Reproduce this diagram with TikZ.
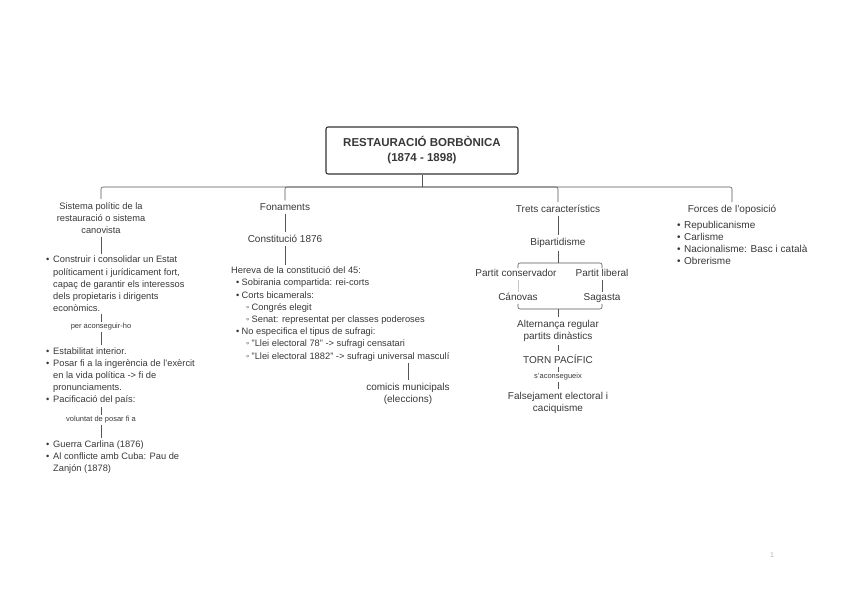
\documentclass[tikz,border=0pt]{standalone}
\usepackage{fontspec}
\setmainfont{Liberation Sans}
\definecolor{txt}{HTML}{383838}
\definecolor{ln}{HTML}{555555}
\definecolor{lnlight}{HTML}{C8C8C8}
\tikzset{
  lbl/.style={inner sep=3pt, text=txt, align=center, font=\fontsize{10}{12}\selectfont},
  brk/.style={inner sep=1pt, text=txt, text height=7.3pt, text depth=2.1pt, font=\fontsize{10}{12}\selectfont},
  body/.style={inner sep=2pt, text=txt, align=left, font=\fontsize{9.3}{12.2}\selectfont},
  bodyb/.style={inner sep=2pt, text=txt, align=left, font=\fontsize{10}{12}\selectfont},
  small/.style={inner sep=1pt, text=txt, font=\fontsize{7.5}{9}\selectfont},
  con/.style={draw=ln, line width=0.6pt},
  titlebox/.style={draw=black!80, line width=1.1pt, rounded corners=2pt, minimum width=192pt,
    minimum height=47pt, align=center, font=\bfseries\fontsize{11.5}{15}\selectfont, text=txt}
}
\newcommand{\bul}{\makebox[7pt][l]{\textbullet}}
\newcommand{\ind}{\hspace*{7pt}}
\newcommand{\bulb}{\hspace*{5pt}\makebox[5.5pt][l]{\textbullet}}
\newcommand{\subb}{\hspace*{15pt}\makebox[5.5pt][l]{◦}}
\begin{document}
\begin{tikzpicture}[x=1pt,y=-1pt]
\useasboundingbox (0,0) rectangle (848,600);

% title
\node[titlebox] (title) at (422,150.5) {RESTAURACIÓ BORBÒNICA\\(1874 - 1898)};
\coordinate (hub) at (422,187);

% column 1
\node[body, align=center, inner sep=3pt] (sis) at (101,218) {Sistema polític de la\\restauració o sistema\\canovista};
\node[body, anchor=west] (l1) at (44,284) {\bul Construir i consolidar un Estat\\
\ind políticament i jurídicament fort,\\
\ind capaç de garantir els interessos\\
\ind dels propietaris i dirigents\\
\ind econòmics.};
\node[small] (aco) at (101,327) {per aconseguir-ho};
\node[body, anchor=west] (l2) at (44,376) {\bul Estabilitat interior.\\
\bul Posar fi a la ingerència de l'exèrcit\\
\ind en la vida política -> fi de\\
\ind pronunciaments.\\
\bul Pacificació del país:};
\node[small] (vol) at (101,420) {voluntat de posar fi a};
\node[body, anchor=west] (l3) at (44,457) {\bul Guerra Carlina (1876)\\
\bul Al conflicte amb Cuba: Pau de\\
\ind Zanjón (1878)};

% column 2
\node[lbl] (fon) at (285,207) {Fonaments};
\node[lbl] (c76) at (285,239) {Constitució 1876};
\node[body, anchor=west] (l4) at (229,314) {Hereva de la constitució del 45:\\
\bulb Sobirania compartida: rei-corts\\
\bulb Corts bicamerals:\\
\subb Congrés elegit\\
\subb Senat: representat per classes poderoses\\
\bulb No especifica el tipus de sufragi:\\
\subb "Llei electoral 78" -> sufragi censatari\\
\subb "Llei electoral 1882" -> sufragi universal masculí};
\node[lbl] (com) at (408,394) {comicis municipals\\(eleccions)};

% column 3
\node[lbl] (trets) at (558,209) {Trets característics};
\node[lbl] (bip) at (558,243) {Bipartidisme};
\coordinate (bt) at (558,263);
\node[brk] (pc) at (516,274) {Partit conservador};
\node[brk] (pl) at (602,274) {Partit liberal};
\node[brk] (can) at (518,298) {Cánovas};
\node[brk] (sag) at (602,298) {Sagasta};
\coordinate (bb) at (558,309);
\node[lbl] (alt) at (558,331) {Alternança regular\\partits dinàstics};
\node[lbl] (torn) at (558,359) {TORN PACÍFIC};
\node[small] (sac) at (558,377) {s'aconsegueix};
\node[lbl] (fals) at (558,402.5) {Falsejament electoral i\\caciquisme};

% column 4
\node[lbl] (forc) at (732,210) {Forces de l'oposició};
\node[bodyb, anchor=west] (l5) at (675,243) {\bul Republicanisme\\
\bul Carlisme\\
\bul Nacionalisme: Basc i català\\
\bul Obrerisme};

% page number
\node[text=black!30, font=\fontsize{7}{8}\selectfont] (pg) at (772,555) {1};

% connectors
\draw[con] (title.south) -- (hub);
\draw[con, rounded corners=2pt] (hub) -| (sis.north);
\draw[con, rounded corners=2pt] (hub) -| (fon.north);
\draw[con, rounded corners=2pt] (hub) -| (trets.north);
\draw[con, rounded corners=2pt] (hub) -| (forc.north);

\draw[con] (sis.south) -- (sis.south |- l1.north);
\draw[con] (aco.north |- l1.south) -- (aco.north);
\draw[con] (aco.south) -- (aco.south |- l2.north);
\draw[con] (vol.north |- l2.south) -- (vol.north);
\draw[con] (vol.south) -- (vol.south |- l3.north);

\draw[con] (fon.south) -- (c76.north);
\draw[con] (c76.south) -- (c76.south |- l4.north);
\draw[con] (com.north |- l4.south) -- (com.north);

\draw[con] (trets.south) -- (bip.north);
\draw[con] (bip.south) -- (bt);
\draw[con, rounded corners=2pt] (pc.north -| can) |- (bt) -| (pl.north -| sag);
\draw[draw=lnlight, line width=0.6pt] (pc.south -| can) -- (can.north);
\draw[con] (pl.south -| sag) -- (sag.north);
\draw[con, rounded corners=2pt] (can.south) |- (bb) -| (sag.south);
\draw[con] (bb) -- (alt.north);
\draw[con] (alt.south) -- (torn.north);
\draw[con] (torn.south) -- (sac.north);
\draw[con] (sac.south) -- (fals.north);
\end{tikzpicture}
\end{document}
